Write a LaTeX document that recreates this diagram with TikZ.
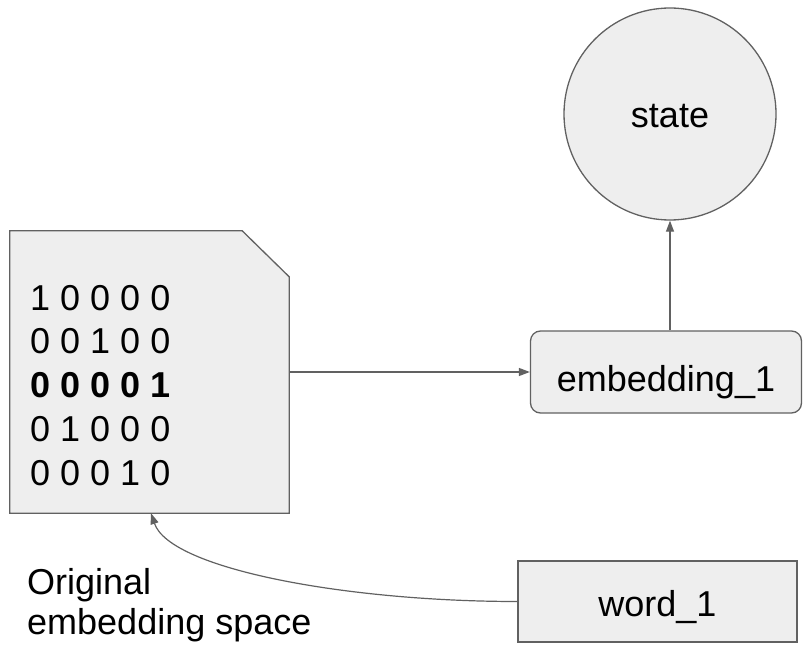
\documentclass[tikz,border=0pt]{standalone}
\usepackage{fontspec}
\setmainfont{Liberation Sans}
\usetikzlibrary{arrows.meta,shapes.geometric}
\definecolor{boxfill}{HTML}{EEEEEE}
\definecolor{boxline}{HTML}{616161}
\tikzset{
  shapebox/.style={draw=boxline, fill=boxfill, line width=1.3pt},
  lbl/.style={inner sep=0pt, font=\fontsize{36}{43}\selectfont},
  conn/.style={draw=boxline, line width=1.2pt, -{Triangle[width=8pt,length=11pt]}},
}
\begin{document}
\begin{tikzpicture}[x=1pt,y=-1pt]
\useasboundingbox (0,0) rectangle (803,647);
% document-like box
\node[minimum width=279pt, minimum height=282pt, inner sep=0pt] (doc) at (149.5,372) {};
\draw[shapebox] (doc.south west) -- (doc.north west) -- ([xshift=-47pt]doc.north east)
  -- ([yshift=-46pt]doc.north east) -- (doc.south east) -- cycle;
\node[lbl, anchor=base west] (r1) at (30,310) {1 0 0 0 0};
\node[lbl, anchor=base west] (r2) at (30,353.75) {0 0 1 0 0};
\node[lbl, anchor=base west] (r3) at (30,397.5) {\bfseries 0 0 0 0 1};
\node[lbl, anchor=base west] (r4) at (30,441.25) {0 1 0 0 0};
\node[lbl, anchor=base west] (r5) at (30,485) {0 0 0 1 0};
% embedding
\node[shapebox, rounded corners=10pt, minimum width=271pt, minimum height=82pt, inner sep=0pt,
  text height=38pt, text depth=0pt,
  font=\fontsize{36}{43}\selectfont] (emb) at (666,372) {embedding\_1};
% state
\node[shapebox, circle, minimum size=212pt, inner sep=0pt,
  text height=28pt, text depth=0pt,
  font=\fontsize{36}{43}\selectfont] (state) at (670,114) {state};
% word
\node[shapebox, minimum width=279pt, minimum height=81pt, inner sep=0pt,
  text height=29pt, text depth=0pt,
  font=\fontsize{36}{43}\selectfont] (word) at (657.5,601.5) {word\_1};
% label
\node[lbl, anchor=base west] (lab1) at (27,594) {Original};
\node[lbl, anchor=base west] (lab2) at (27,634) {embedding space};
% connectors
\draw[conn] (doc.east) -- (emb.west);
\draw[conn] (emb.north -| state.south) -- (state.south);
\draw[conn] (word.west) .. controls +(-170,0) and +(19,56) .. ([xshift=1.5pt]doc.south);
\end{tikzpicture}
\end{document}
